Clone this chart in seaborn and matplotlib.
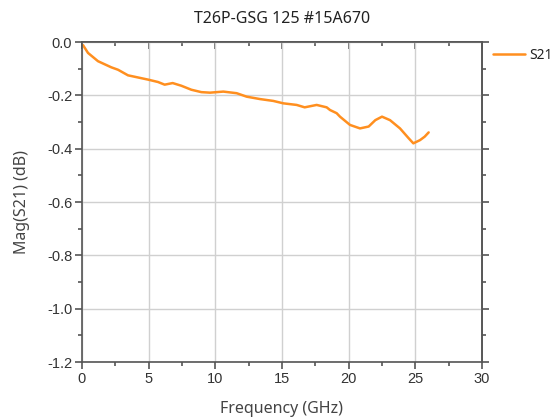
import numpy as np
import pandas as pd
import matplotlib
matplotlib.use("Agg")
import matplotlib.pyplot as plt
import seaborn as sns
from matplotlib.ticker import MultipleLocator

freq_ghz = [0.08, 0.45, 1.2, 2.2, 2.7, 3.45, 4.2, 4.95, 5.7, 6.2, 6.8, 7.45, 8.2, 8.95,
            9.6, 10.6, 11.6, 12.35, 13.35, 14.35, 15.1, 16.1, 16.7, 17.6, 18.35,
            18.6, 19.1, 19.35, 20.1, 20.85, 21.5, 22.0, 22.5, 23.1, 23.85, 24.5,
            24.85, 25.35, 25.7, 26.0]
mag_s21 = [-0.012, -0.041, -0.072, -0.095, -0.104, -0.125, -0.133, -0.141, -0.150, -0.160,
           -0.154, -0.164, -0.179, -0.188, -0.190, -0.186, -0.192, -0.205, -0.214, -0.221,
           -0.230, -0.236, -0.245, -0.236, -0.245, -0.255, -0.267, -0.280, -0.311, -0.324,
           -0.317, -0.293, -0.280, -0.293, -0.324, -0.361, -0.380, -0.368, -0.355, -0.339]
series_name = "S21"
title = "T26P-GSG 125 #15A670"
xlabel = "Frequency (GHz)"
ylabel = "Mag(S21) (dB)"

df = pd.DataFrame({"f": freq_ghz, "v": mag_s21, "s": series_name})

sns.set_style("white")
plt.rcParams["font.family"] = ["Liberation Sans", "DejaVu Sans"]

fig = plt.figure(figsize=(5.52, 4.19), dpi=100)
ax = fig.add_axes([82/552, 1-362/419, 400/552, 320/419])

sns.lineplot(data=df, x="f", y="v", hue="s", palette=["#FF8F1F"], linewidth=1.8, ax=ax)

ax.set_xlim(0, 30)
ax.set_ylim(-1.2, 0.0)
ax.xaxis.set_major_locator(MultipleLocator(5))
ax.xaxis.set_minor_locator(MultipleLocator(2.5))
ax.yaxis.set_major_locator(MultipleLocator(0.2))
ax.yaxis.set_minor_locator(MultipleLocator(0.1))
ax.set_yticklabels([f"{t:.1f}" for t in ax.get_yticks()])
ax.grid(True, which="major", color="#d0d0d0", linewidth=1.0)
ax.set_axisbelow(True)

spine_c = "#555555"
for s in ax.spines.values():
    s.set_color(spine_c)
    s.set_linewidth(1.2)
ax.tick_params(axis="both", which="major", direction="out", length=5, width=1.2,
               color=spine_c, labelsize=10.5, labelcolor="#333333", pad=2)
ax.tick_params(axis="both", which="minor", direction="out", length=3, width=1.2, color=spine_c)
ax.tick_params(left=True, bottom=True, which="both")

top = ax.secondary_xaxis("top")
top.xaxis.set_major_locator(MultipleLocator(5))
top.xaxis.set_minor_locator(MultipleLocator(2.5))
top.tick_params(which="major", direction="in", length=5, width=1.2, color=spine_c, labeltop=False)
top.tick_params(which="minor", direction="in", length=3, width=1.2, color=spine_c)
top.set_xticklabels([])
top.spines["top"].set_color(spine_c)
top.spines["top"].set_linewidth(1.2)

right = ax.secondary_yaxis("right")
right.yaxis.set_major_locator(MultipleLocator(0.2))
right.yaxis.set_minor_locator(MultipleLocator(0.1))
right.tick_params(which="major", direction="out", length=5, width=1.2, color=spine_c, labelright=False)
right.tick_params(which="minor", direction="out", length=3, width=1.2, color=spine_c)
right.set_yticklabels([])
right.spines["right"].set_color(spine_c)
right.spines["right"].set_linewidth(1.2)

ax.set_title(title, fontsize=11.5, color="#222222", pad=14, family=["Noto Sans", "DejaVu Sans"])
ax.set_xlabel(xlabel, fontsize=11.5, color="#444444", labelpad=11, family=["Noto Sans", "DejaVu Sans"])
ax.set_ylabel(ylabel, fontsize=11.5, color="#444444", labelpad=12, family=["Noto Sans", "DejaVu Sans"])

leg = ax.legend(loc="upper left", bbox_to_anchor=(493/552, 1-48/419),
                bbox_transform=fig.transFigure, frameon=False,
                handlelength=2.3, handletextpad=0.3, borderaxespad=0.0, borderpad=0.0,
                prop={"family": "Noto Sans", "size": 10})
for t in leg.get_texts():
    t.set_color("#222222")

fig.savefig("out.png", dpi=100)
